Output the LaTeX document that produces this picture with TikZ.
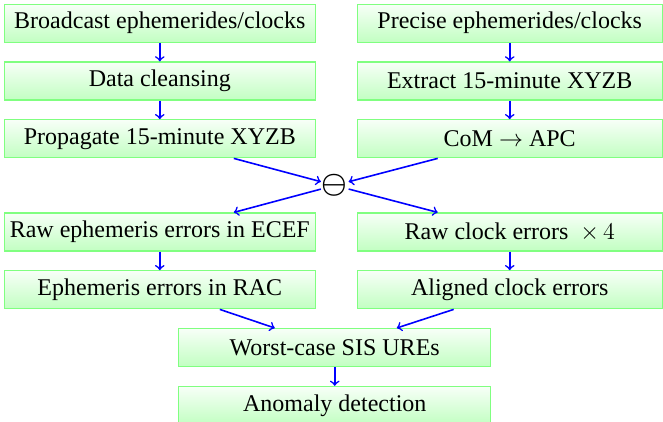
\documentclass[tikz,border=0pt]{standalone}
\usepackage{fontspec}
\setmainfont{Liberation Serif}
\usetikzlibrary{positioning,calc}

\begin{document}
\begin{tikzpicture}[->, node distance=9.3pt,main node/.style={rectangle, draw=green!50, line width=0.6pt, top color=green!3, bottom color=green!24, minimum width=155.5pt, minimum height=19pt, inner sep=2pt, font=\large}]
        \tikzstyle{every edge}=[draw, line width=0.8pt]
        \useasboundingbox (0,0) rectangle (331.5pt,-211pt);

          % left column
          \node[main node] (1) at (79.9pt,-11.6pt) {Broadcast ephemerides/clocks};
          \node[main node] (2) [below=of 1] {Data cleansing};
          \node[main node] (3) [below=of 2] {Propagate 15-minute XYZB};

          % right column
          \node[main node, minimum width=152.5pt] (4) [right=20.35pt of 1] {Precise ephemerides/clocks};
          \node[main node, minimum width=152.5pt] (5) [below=of 4] {Extract 15-minute XYZB};
          \node[main node, minimum width=152.5pt] (6) [below=of 5] {CoM $\rightarrow$ APC};

          \node[main node] (8) [below=27pt of 3] {Raw ephemeris errors in ECEF};
          \node[main node] (9) [below=of 8] {Ephemeris errors in RAC};
          \node[main node, minimum width=152.5pt] (10) [below=27pt of 6] {Raw clock errors ~$\times\,4$};
          \node[main node, minimum width=152.5pt] (11) [below=of 10] {Aligned clock errors};

          \node[inner sep=0.3pt, font=\Large\boldmath] (7) at ($(3.south)!0.5!(10.north)$) {$\ominus$};

          % bottom
          \node[main node, minimum width=155.9pt] (12) [below=9.3pt of $(9.south)!0.5!(11.south)$] {Worst-case SIS UREs};
          \node[main node, minimum width=155.9pt] (13) [below=of 12] {Anomaly detection};

          \path[blue]
            (1) edge (2)
            (2) edge (3)
            (4) edge (5)
            (5) edge (6)
            ([xshift=37pt]3.south) edge (7)
            ([xshift=-36pt]6.south) edge (7)
            (7) edge ([xshift=37pt]8.north)
            (7) edge ([xshift=-36pt]10.north)
            (8) edge (9)
            (10) edge (11)
            ([xshift=30pt]9.south) edge ([xshift=-30pt]12.north)
            ([xshift=-28pt]11.south) edge ([xshift=31pt]12.north)
            (12) edge (13);

        \end{tikzpicture}
\end{document}
